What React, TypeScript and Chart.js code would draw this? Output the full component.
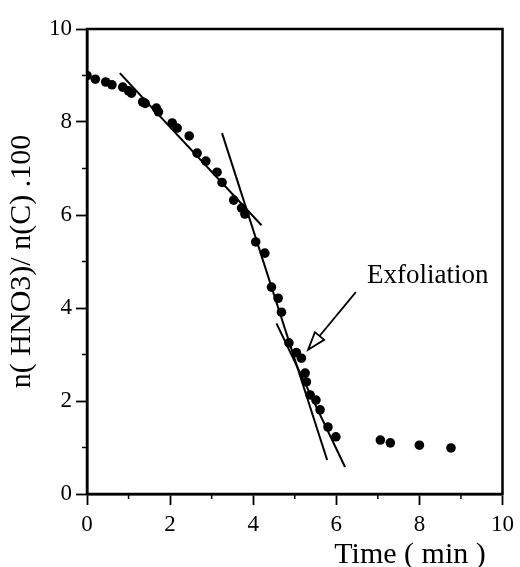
import React, { useEffect, useRef } from "react";
import { Chart, registerables } from "chart.js";

Chart.register(...registerables);

// Measured data (time in min, n(HNO3)/n(C)*100)
const timeValues = [
  0, 0.2, 0.45, 0.6, 0.86, 1.0, 1.07, 1.34, 1.4, 1.67, 1.72, 2.05, 2.17, 2.46, 2.65, 2.86,
  3.13, 3.25, 3.53, 3.72, 3.8, 4.06, 4.28, 4.44, 4.6, 4.68, 4.86, 5.04, 5.16, 5.25, 5.28,
  5.37, 5.51, 5.61, 5.8, 5.99, 7.06, 7.3, 8.0, 8.76,
];
const ratioValues = [
  9.0, 8.92, 8.86, 8.8, 8.75, 8.67, 8.62, 8.43, 8.4, 8.3, 8.22, 7.98, 7.87, 7.7, 7.33, 7.16,
  6.92, 6.7, 6.32, 6.15, 6.02, 5.42, 5.18, 4.45, 4.21, 3.91, 3.25, 3.04, 2.92, 2.6, 2.41,
  2.13, 2.02, 1.81, 1.44, 1.23, 1.16, 1.1, 1.05, 0.99,
];

// Fitted straight lines (endpoints)
const fit1X = [0.79, 4.2];
const fit1Y = [9.05, 5.78];
const fit2X = [3.25, 5.78];
const fit2Y = [7.76, 0.73];
const fit3X = [4.56, 6.21];
const fit3Y = [3.67, 0.58];

// Annotation
const annotationText = "Exfoliation";
const annotationPos = [6.74, 4.54];
const arrowTail = [6.47, 4.34];
const arrowTip = [5.32, 3.1];

const xTitle = "Time ( min )";
const yTitle = "n( HNO3)/ n(C) .100";
const axisMin = 0;
const axisMax = 10;
const majorStep = 2;
const minorTicks = [1, 3, 5, 7, 9];

const SERIF = "'Liberation Serif', 'DejaVu Serif', serif";

const decorPlugin = {
  id: "decor",
  afterDraw(chart: any) {
    const { ctx, chartArea, scales } = chart;
    const xs = scales.x;
    const ys = scales.y;
    ctx.save();
    ctx.strokeStyle = "#000";
    ctx.fillStyle = "#000";
    // frame
    ctx.lineWidth = 2.5;
    ctx.strokeRect(chartArea.left, chartArea.top, chartArea.right - chartArea.left, chartArea.bottom - chartArea.top);
    // minor ticks
    ctx.lineWidth = 1.5;
    minorTicks.forEach((v) => {
      const px = xs.getPixelForValue(v);
      ctx.beginPath();
      ctx.moveTo(px, chartArea.bottom);
      ctx.lineTo(px, chartArea.bottom + 5);
      ctx.stroke();
      const py = ys.getPixelForValue(v);
      ctx.beginPath();
      ctx.moveTo(chartArea.left, py);
      ctx.lineTo(chartArea.left - 5, py);
      ctx.stroke();
    });
    // arrow
    const tx = xs.getPixelForValue(arrowTail[0]);
    const ty = ys.getPixelForValue(arrowTail[1]);
    const hx = xs.getPixelForValue(arrowTip[0]);
    const hy = ys.getPixelForValue(arrowTip[1]);
    const ang = Math.atan2(hy - ty, hx - tx);
    const headLen = 18;
    const headHalf = 6;
    const bx = hx - headLen * Math.cos(ang);
    const by = hy - headLen * Math.sin(ang);
    ctx.lineWidth = 1.8;
    ctx.beginPath();
    ctx.moveTo(tx, ty);
    ctx.lineTo(bx, by);
    ctx.stroke();
    const nx = -Math.sin(ang);
    const ny = Math.cos(ang);
    ctx.beginPath();
    ctx.moveTo(hx, hy);
    ctx.lineTo(bx + nx * headHalf, by + ny * headHalf);
    ctx.lineTo(bx - nx * headHalf, by - ny * headHalf);
    ctx.closePath();
    ctx.fillStyle = "#fff";
    ctx.fill();
    ctx.stroke();
    // annotation text
    ctx.fillStyle = "#000";
    ctx.font = `27px ${SERIF}`;
    ctx.textAlign = "left";
    ctx.textBaseline = "alphabetic";
    ctx.fillText(annotationText, xs.getPixelForValue(annotationPos[0]), ys.getPixelForValue(annotationPos[1]));
    // x title
    ctx.font = `30px ${SERIF}`;
    ctx.textAlign = "center";
    ctx.fillText(xTitle, 410, 563);
    ctx.restore();
  },
};

export default function App() {
  const ref = useRef<HTMLCanvasElement | null>(null);
  useEffect(() => {
    document.body.style.margin = "0";
    const canvas = ref.current;
    if (!canvas) return;
    const points = timeValues.map((t, i) => ({ x: t, y: ratioValues[i] }));
    const line = (xa: number[], ya: number[]) => xa.map((x, i) => ({ x, y: ya[i] }));
    const lineStyle = {
      type: "line" as const,
      borderColor: "#000",
      borderWidth: 2,
      pointRadius: 0,
      showLine: true,
      fill: false,
    };
    const chart = new Chart(canvas, {
      type: "scatter",
      data: {
        datasets: [
          { ...lineStyle, label: "fit1", data: line(fit1X, fit1Y) },
          { ...lineStyle, label: "fit2", data: line(fit2X, fit2Y) },
          { ...lineStyle, label: "fit3", data: line(fit3X, fit3Y) },
          {
            label: "data",
            data: points,
            backgroundColor: "#000",
            borderColor: "#000",
            pointRadius: 4.8,
            pointBorderWidth: 0,
          },
        ],
      },
      options: {
        animation: false,
        responsive: false,
        events: [],
        layout: { padding: { top: 29, right: 14, left: 0, bottom: 0 } },
        plugins: { legend: { display: false }, tooltip: { enabled: false } },
        scales: {
          x: {
            type: "linear",
            min: axisMin,
            max: axisMax,
            afterFit: (s: any) => {
              s.height = 73;
            },
            ticks: {
              stepSize: majorStep,
              color: "#000",
              padding: 6,
              font: { family: SERIF, size: 23 },
            },
            grid: { drawOnChartArea: false, drawTicks: true, tickLength: 11, tickWidth: 1.8, tickColor: "#000" },
            border: { color: "#000", width: 2.5 },
          },
          y: {
            type: "linear",
            min: axisMin,
            max: axisMax,
            afterFit: (s: any) => {
              s.width = 87;
            },
            ticks: {
              stepSize: majorStep,
              color: "#000",
              padding: 4,
              font: { family: SERIF, size: 23 },
            },
            grid: { drawOnChartArea: false, drawTicks: true, tickLength: 11, tickWidth: 1.8, tickColor: "#000" },
            border: { color: "#000", width: 2.5 },
            title: {
              display: true,
              text: yTitle,
              color: "#000",
              font: { family: SERIF, size: 30 },
              padding: { top: 4, bottom: 0 },
            },
          },
        },
      },
      plugins: [decorPlugin],
    });
    return () => chart.destroy();
  }, []);
  return (
    <div style={{ width: 520, height: 567 }}>
      <canvas ref={ref} width={520} height={567} style={{ display: "block" }} />
    </div>
  );
}
